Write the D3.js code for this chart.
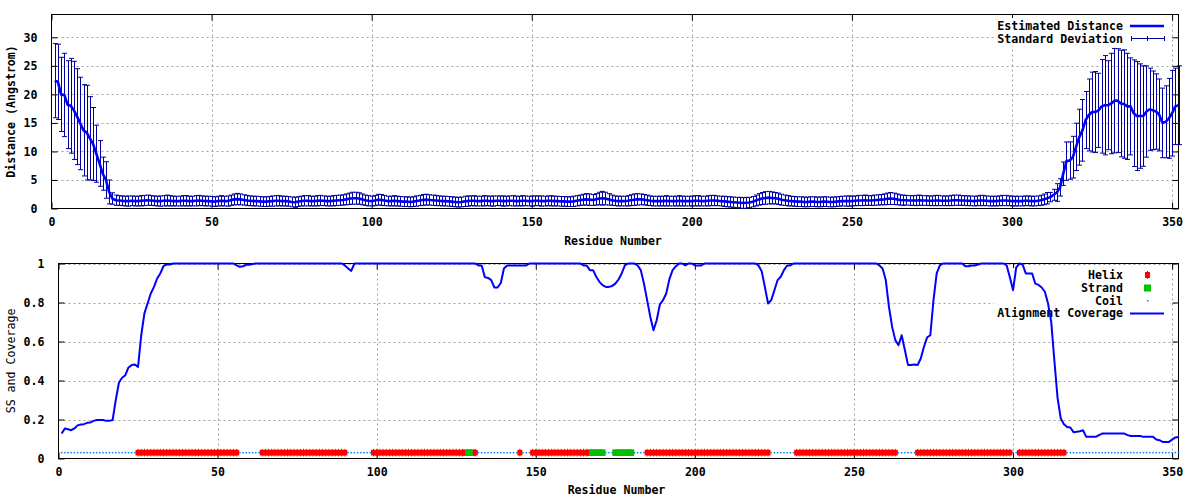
<!DOCTYPE html>
<html>
<head>
<meta charset="utf-8">
<script src="https://cdn.jsdelivr.net/npm/d3@7"></script>
<style>
  html, body { margin: 0; padding: 0; background: #fff; }
  svg { display: block; }
  text { font-family: "DejaVu Sans Mono", "Liberation Mono", monospace; font-weight: bold; font-size: 11.6px; fill: #000; }
</style>
</head>
<body>
<svg id="chart" width="1200" height="500"></svg>
<script>
// ---------------- DATA ----------------
const firstResidue = 1;

// Estimated distance (Angstrom), residues 1..352
const distanceMean = [
  22.4,22.2,20.0,19.9,18.2,18.0,17.2,16.1,14.9,13.7,
  13.3,12.3,11.3,9.6,7.9,6.1,5.0,2.9,1.75,1.45,
  1.4,1.35,1.3,1.3,1.35,1.3,1.3,1.35,1.4,1.45,
  1.4,1.35,1.3,1.3,1.35,1.4,1.35,1.3,1.3,1.3,
  1.35,1.35,1.3,1.3,1.35,1.4,1.35,1.3,1.3,1.25,
  1.2,1.3,1.35,1.3,1.3,1.45,1.6,1.65,1.6,1.5,
  1.4,1.35,1.3,1.3,1.25,1.2,1.2,1.25,1.3,1.35,
  1.35,1.3,1.3,1.25,1.15,1.1,1.2,1.3,1.35,1.35,
  1.3,1.3,1.35,1.4,1.35,1.3,1.3,1.35,1.4,1.45,
  1.5,1.6,1.7,1.8,1.8,1.75,1.6,1.45,1.35,1.3,
  1.4,1.55,1.5,1.4,1.3,1.3,1.35,1.3,1.25,1.2,
  1.2,1.15,1.2,1.3,1.4,1.5,1.55,1.5,1.45,1.4,
  1.35,1.3,1.3,1.25,1.2,1.15,1.1,1.15,1.25,1.3,
  1.35,1.35,1.3,1.3,1.35,1.35,1.3,1.3,1.35,1.35,
  1.3,1.3,1.35,1.35,1.3,1.3,1.35,1.35,1.3,1.3,
  1.35,1.35,1.3,1.3,1.35,1.35,1.3,1.3,1.25,1.25,
  1.2,1.2,1.25,1.35,1.45,1.55,1.6,1.55,1.5,1.6,
  1.75,1.8,1.75,1.6,1.45,1.35,1.3,1.3,1.3,1.35,
  1.45,1.55,1.6,1.6,1.55,1.45,1.35,1.3,1.3,1.3,
  1.3,1.35,1.3,1.3,1.3,1.35,1.3,1.3,1.3,1.3,
  1.35,1.35,1.3,1.3,1.35,1.4,1.4,1.35,1.3,1.25,
  1.2,1.15,1.1,1.05,1.0,0.95,1.0,1.05,1.2,1.4,
  1.6,1.75,1.85,1.9,1.85,1.8,1.7,1.55,1.45,1.35,
  1.3,1.25,1.2,1.2,1.15,1.15,1.2,1.2,1.15,1.15,
  1.2,1.2,1.15,1.15,1.2,1.25,1.3,1.3,1.3,1.3,
  1.35,1.4,1.4,1.45,1.4,1.4,1.45,1.5,1.55,1.6,
  1.7,1.75,1.7,1.6,1.5,1.45,1.45,1.4,1.4,1.4,
  1.45,1.4,1.4,1.35,1.35,1.4,1.4,1.35,1.35,1.35,
  1.4,1.45,1.45,1.4,1.4,1.35,1.35,1.3,1.35,1.4,
  1.4,1.35,1.3,1.3,1.3,1.35,1.4,1.4,1.35,1.3,
  1.3,1.3,1.3,1.35,1.35,1.3,1.3,1.35,1.45,1.6,
  1.8,2.0,2.4,2.8,3.7,6.1,8.3,8.4,9.0,10.8,
  12.5,13.7,15.5,16.4,16.9,16.9,17.2,17.9,18.1,18.1,
  18.4,18.9,18.9,18.4,18.3,17.9,17.9,16.7,16.2,16.2,
  16.2,17.0,17.4,17.2,17.0,16.4,15.0,15.2,15.8,16.7,
  17.9,18.1
];

// Standard deviation (Angstrom), residues 1..352
const distanceSD = [
  6.5,6.6,6.5,7.3,7.7,8.3,8.6,8.4,8.1,8.0,
  8.3,7.3,6.4,5.0,4.0,2.9,3.2,2.1,1.0,0.9,
  0.85,0.85,0.85,0.9,0.85,0.85,0.85,0.9,0.9,0.9,
  0.85,0.85,0.85,0.9,0.9,0.95,0.9,0.85,0.85,0.85,
  0.9,0.9,0.85,0.85,0.9,0.9,0.85,0.85,0.85,0.85,
  0.85,0.85,0.9,0.85,0.9,0.9,0.95,1.0,0.95,0.9,
  0.9,0.85,0.85,0.85,0.85,0.85,0.85,0.85,0.9,0.9,
  0.9,0.85,0.85,0.85,0.85,0.9,0.85,0.85,0.9,0.9,
  0.85,0.85,0.9,0.9,0.85,0.85,0.85,0.9,0.9,0.9,
  0.9,0.95,1.0,1.05,1.05,1.0,0.95,0.9,0.9,0.85,
  0.9,0.95,0.95,0.9,0.85,0.85,0.9,0.85,0.85,0.85,
  0.85,0.85,0.85,0.9,0.9,0.95,0.95,0.9,0.9,0.9,
  0.85,0.85,0.85,0.85,0.85,0.85,0.85,0.85,0.9,0.9,
  0.85,0.9,0.85,0.85,0.9,0.85,0.85,0.9,0.85,0.85,
  0.9,0.85,0.85,0.9,0.85,0.85,0.9,0.85,0.85,0.9,
  0.85,0.85,0.9,0.85,0.85,0.9,0.85,0.85,0.85,0.85,
  0.85,0.85,0.9,0.9,0.9,0.95,1.0,1.0,0.95,1.0,
  1.1,1.2,1.1,1.0,0.9,0.85,0.85,0.85,0.85,0.9,
  0.95,1.0,1.0,0.95,0.9,0.9,0.85,0.85,0.85,0.85,
  0.85,0.9,0.85,0.85,0.85,0.9,0.85,0.85,0.85,0.85,
  0.9,0.9,0.85,0.85,0.9,0.9,0.9,0.85,0.85,0.9,
  0.9,0.9,0.9,0.9,0.95,0.95,0.95,0.9,0.9,0.95,
  1.0,1.05,1.1,1.1,1.05,1.0,1.0,0.95,0.9,0.9,
  0.85,0.85,0.85,0.85,0.85,0.85,0.85,0.85,0.85,0.85,
  0.85,0.85,0.85,0.85,0.85,0.85,0.85,0.9,0.9,0.85,
  0.85,0.9,0.9,0.9,0.85,0.85,0.9,0.9,0.9,0.95,
  1.0,1.05,1.0,0.95,0.9,0.9,0.85,0.85,0.85,0.9,
  0.9,0.85,0.85,0.85,0.85,0.9,0.9,0.85,0.85,0.85,
  0.9,0.9,0.9,0.85,0.85,0.85,0.85,0.85,0.85,0.9,
  0.9,0.85,0.85,0.85,0.85,0.85,0.9,0.9,0.85,0.85,
  0.85,0.85,0.85,0.85,0.85,0.85,0.85,0.85,0.88,0.94,
  1.0,0.82,0.96,1.55,1.52,2.05,3.36,3.27,3.65,4.15,
  4.9,5.4,5.0,6.3,7.0,7.1,6.5,8.2,8.7,7.8,
  8.8,9.15,9.1,9.35,9.5,9.3,8.5,9.35,9.55,9.15,
  8.8,8.0,7.2,6.9,6.6,6.3,6.1,6.3,7.0,7.5,
  6.7,6.9
];

// Alignment coverage (0..1), residues 1..352
const coverage = [
  0.128,0.154,0.150,0.145,0.154,0.170,0.174,0.176,0.183,0.185,
  0.193,0.197,0.197,0.197,0.193,0.193,0.197,0.30,0.39,0.414,
  0.427,0.467,0.479,0.482,0.47,0.632,0.744,0.795,0.846,0.88,
  0.923,0.949,0.986,0.995,0.995,1,1,1,1,1,
  1,1,1,1,1,1,1,1,1,1,
  1,1,1,1,1,0.99,0.983,0.986,0.993,0.993,
  0.997,1,1,1,1,1,1,1,1,1,
  1,1,1,1,1,1,1,1,1,1,
  1,1,1,1,1,1,1,1,1,0.99,
  0.975,0.962,1,1,1,1,1,1,1,1,
  1,1,1,1,1,1,1,1,1,1,
  1,1,1,1,1,1,1,1,1,1,
  1,1,1,1,1,1,1,1,1,1,
  1,0.99,0.99,0.93,0.926,0.915,0.877,0.877,0.9,0.974,
  0.99,0.99,0.99,0.99,0.99,0.99,0.99,1,1,1,
  1,1,1,1,1,1,1,1,1,1,
  1,1,1,1,0.99,0.99,0.966,0.966,0.932,0.906,
  0.889,0.88,0.88,0.885,0.897,0.918,0.949,0.99,1,1,
  1,0.99,0.966,0.897,0.812,0.726,0.658,0.709,0.79,0.812,
  0.846,0.92,0.966,0.985,1,1,0.99,1,1,0.99,
  0.99,0.99,1,1,1,1,1,1,1,1,
  1,1,1,1,1,1,1,1,1,0.99,
  0.96,0.88,0.795,0.812,0.863,0.915,0.932,0.966,0.99,0.99,
  1,1,1,1,1,1,1,1,1,1,
  1,1,1,1,1,1,1,1,1,1,
  1,1,1,1,1,1,1,0.99,0.974,0.915,
  0.778,0.675,0.607,0.581,0.632,0.556,0.479,0.479,0.482,0.479,
  0.513,0.573,0.621,0.632,0.812,0.949,0.99,1,1,1,
  1,1,1,1,0.986,0.986,0.99,0.99,0.995,1,
  1,1,1,1,1,1,1,0.99,0.93,0.863,
  0.98,1,0.995,0.949,0.949,0.949,0.897,0.89,0.877,0.855,
  0.795,0.701,0.50,0.31,0.205,0.176,0.162,0.159,0.135,0.137,
  0.14,0.145,0.111,0.111,0.111,0.111,0.12,0.128,0.128,0.128,
  0.128,0.128,0.128,0.128,0.128,0.12,0.115,0.115,0.115,0.115,
  0.111,0.111,0.111,0.111,0.097,0.094,0.085,0.085,0.085,0.097,
  0.108,0.11
];

// Secondary structure segments [type, firstResidue, lastResidue]
const ssSegments = [
  ["C", 1, 24], ["H", 25, 56], ["C", 57, 63], ["H", 64, 90], ["C", 91, 98],
  ["H", 99, 127], ["E", 128, 130], ["H", 131, 131], ["C", 132, 144], ["H", 145, 145],
  ["C", 146, 148], ["H", 149, 166], ["E", 167, 171], ["C", 172, 174], ["E", 175, 180],
  ["C", 181, 184], ["H", 185, 223], ["C", 224, 231], ["H", 232, 263], ["C", 264, 269],
  ["H", 270, 299], ["C", 300, 301], ["H", 302, 316], ["C", 317, 352]
];
const ssLevel = 0.03;

// Axis ticks and labels
const topXTicks = [0, 50, 100, 150, 200, 250, 300, 350];
const topYTicks = [0, 5, 10, 15, 20, 25, 30];
const botXTicks = [0, 50, 100, 150, 200, 250, 300, 350];
const botYTicks = [0, 0.2, 0.4, 0.6, 0.8, 1];
const xLabel = "Residue Number";
const topYLabel = "Distance (Angstrom)";
const botYLabel = "SS and Coverage";
const topLegend = ["Estimated Distance", "Standard Deviation"];
const botLegend = ["Helix", "Strand", "Coil", "Alignment Coverage"];

// ---------------- DRAWING ----------------
const svg = d3.select("#chart");
const GRID = "#a0a0a0";
const LINEBLUE = "#0000ff";
const ERRBLUE = "#0000a0";
const COLORS = { H: "#ff0000", E: "#00c000", C: "#0080ff" };

const distData = distanceMean.map((m, i) => ({ r: firstResidue + i, m, s: distanceSD[i] }));
const covData = coverage.map((c, i) => ({ r: firstResidue + i, c }));
const ssData = [];
ssSegments.forEach(([t, a, b]) => { for (let r = a; r <= b; r++) ssData.push({ r, t }); });

function frame(g, x, y, xt, yt, fmtY, yLabelX, yLabelText, xLabelY, yLabelWeight) {
  const [x0, x1] = x.range();
  const [y0, y1] = y.range(); // y0 bottom, y1 top
  const grid = g.append("g");
  xt.forEach(v => {
    if (v === 0) return;
    grid.append("line").attr("x1", Math.round(x(v)) + 0.5).attr("x2", Math.round(x(v)) + 0.5)
      .attr("y1", y1).attr("y2", y0).attr("stroke", GRID).attr("stroke-dasharray", "2,3");
  });
  yt.forEach(v => {
    if (v === 0) return;
    grid.append("line").attr("y1", Math.round(y(v)) + 0.5).attr("y2", Math.round(y(v)) + 0.5)
      .attr("x1", x0).attr("x2", x1).attr("stroke", GRID).attr("stroke-dasharray", "2,3");
  });
  const tl = 6;
  const ax = g.append("g").attr("class", "axes");
  ax.append("g").attr("transform", `translate(0,${y0})`)
    .call(d3.axisBottom(x).tickValues(xt).tickSizeInner(-tl).tickSizeOuter(0).tickPadding(9).tickFormat(d3.format("d")));
  ax.append("g").attr("transform", `translate(0,${y1})`)
    .call(d3.axisTop(x).tickValues(xt).tickSizeInner(-tl).tickSizeOuter(0).tickFormat(""));
  ax.append("g").attr("transform", `translate(${x0},0)`)
    .call(d3.axisLeft(y).tickValues(yt).tickSizeInner(-tl).tickSizeOuter(0).tickPadding(14).tickFormat(fmtY));
  ax.append("g").attr("transform", `translate(${x1},0)`)
    .call(d3.axisRight(y).tickValues(yt).tickSizeInner(-tl).tickSizeOuter(0).tickFormat(""));
  ax.selectAll(".domain").remove();
  ax.selectAll(".tick line").attr("stroke", "#000");
  ax.selectAll(".tick text").attr("font-family", null).attr("font-size", null);
  g.append("rect").attr("x", x0).attr("y", y1).attr("width", x1 - x0).attr("height", y0 - y1)
    .attr("fill", "none").attr("stroke", "#000").attr("stroke-width", 1);
  g.append("text").attr("x", (x0 + x1) / 2 - 2).attr("y", xLabelY).attr("text-anchor", "middle")
    .attr("dominant-baseline", "central").text(xLabel);
  g.append("text").attr("transform", `translate(${yLabelX},${(y0 + y1) / 2}) rotate(-90)`)
    .attr("text-anchor", "middle").attr("dominant-baseline", "central")
    .style("font-weight", yLabelWeight).text(yLabelText);
}

// ---------- Top chart ----------
const xT = d3.scaleLinear().domain([0, 352]).range([51.5, 1178.5]);
const yT = d3.scaleLinear().domain([0, 34]).range([208.5, 14.5]);
const gT = svg.append("g");
frame(gT, xT, yT, topXTicks, topYTicks, d3.format("d"), 11, topYLabel, 241, "bold");

gT.append("rect").attr("x", 994).attr("y", 18).attr("width", 176).attr("height", 28).attr("fill", "#fff");
topLegend.forEach((t, i) => {
  gT.append("text").attr("x", 1123).attr("y", 26 + i * 12.8).attr("text-anchor", "end")
    .attr("dominant-baseline", "central").text(t);
});

const eb = gT.append("g").attr("stroke", ERRBLUE).attr("stroke-width", 1).attr("fill", "none");
eb.selectAll("path").data(distData).join("path")
  .attr("d", d => {
    const x = Math.round(xT(d.r)) + 0.5;
    const yh = yT(d.m + d.s), yl = yT(Math.max(0, d.m - d.s));
    return `M${x},${yl}V${yh}M${x - 2.5},${yh}H${x + 2.5}M${x - 2.5},${yl}H${x + 2.5}`;
  });
gT.append("path").datum(distData)
  .attr("d", d3.line().x(d => xT(d.r)).y(d => yT(d.m)))
  .attr("fill", "none").attr("stroke", LINEBLUE).attr("stroke-width", 2.6).attr("stroke-linejoin", "round");

gT.append("line").attr("x1", 1130).attr("x2", 1164).attr("y1", 26).attr("y2", 26)
  .attr("stroke", LINEBLUE).attr("stroke-width", 2.6);
gT.append("path").attr("d", "M1131.5,38.5H1164.5M1131.5,36V41M1164.5,36V41M1147.5,36V41")
  .attr("stroke", ERRBLUE).attr("stroke-width", 1).attr("fill", "none");

// ---------- Bottom chart ----------
const xB = d3.scaleLinear().domain([0, 352]).range([58.5, 1178.5]);
const yB = d3.scaleLinear().domain([0, 1]).range([458.5, 263.5]);
const gB = svg.append("g");
frame(gB, xB, yB, botXTicks, botYTicks, d => d === 0 ? "0" : (d === 1 ? "1" : d3.format(".1f")(d)), 11, botYLabel, 490, "normal");

gB.append("rect").attr("x", 994).attr("y", 268).attr("width", 176).attr("height", 51).attr("fill", "#fff");
botLegend.forEach((t, i) => {
  gB.append("text").attr("x", 1123).attr("y", 275 + i * 12.8).attr("text-anchor", "end")
    .attr("dominant-baseline", "central").text(t);
});

const ssY = yB(ssLevel);
const ssG = gB.append("g");
ssData.filter(d => d.t === "C").forEach(d => {
  ssG.append("rect").attr("x", xB(d.r) - 0.75).attr("y", ssY - 0.75).attr("width", 1.5).attr("height", 1.5).attr("fill", COLORS.C);
});
ssData.filter(d => d.t === "E").forEach(d => {
  ssG.append("rect").attr("x", xB(d.r) - 3).attr("y", ssY - 3.3).attr("width", 6).attr("height", 6.6).attr("fill", COLORS.E);
});
ssData.filter(d => d.t === "H").forEach(d => {
  ssG.append("rect").attr("x", xB(d.r) - 2.5).attr("y", ssY - 2.8).attr("width", 5).attr("height", 5.6).attr("fill", COLORS.H);
  ssG.append("rect").attr("x", xB(d.r) - 0.5).attr("y", ssY - 3.8).attr("width", 1).attr("height", 7.6).attr("fill", COLORS.H);
});

gB.append("path").datum(covData)
  .attr("d", d3.line().x(d => xB(d.r)).y(d => yB(d.c)))
  .attr("fill", "none").attr("stroke", LINEBLUE).attr("stroke-width", 2).attr("stroke-linejoin", "round");

gB.append("rect").attr("x", 1145).attr("y", 272).attr("width", 5).attr("height", 6).attr("fill", COLORS.H);
gB.append("rect").attr("x", 1147).attr("y", 271).attr("width", 1).attr("height", 8).attr("fill", COLORS.H);
gB.append("rect").attr("x", 1144).attr("y", 284.5).attr("width", 7).attr("height", 7).attr("fill", COLORS.E);
gB.append("rect").attr("x", 1147).attr("y", 300).attr("width", 1.5).attr("height", 1.5).attr("fill", COLORS.C);
gB.append("line").attr("x1", 1130).attr("x2", 1164).attr("y1", 313.5).attr("y2", 313.5)
  .attr("stroke", LINEBLUE).attr("stroke-width", 2);
</script>
</body>
</html>
